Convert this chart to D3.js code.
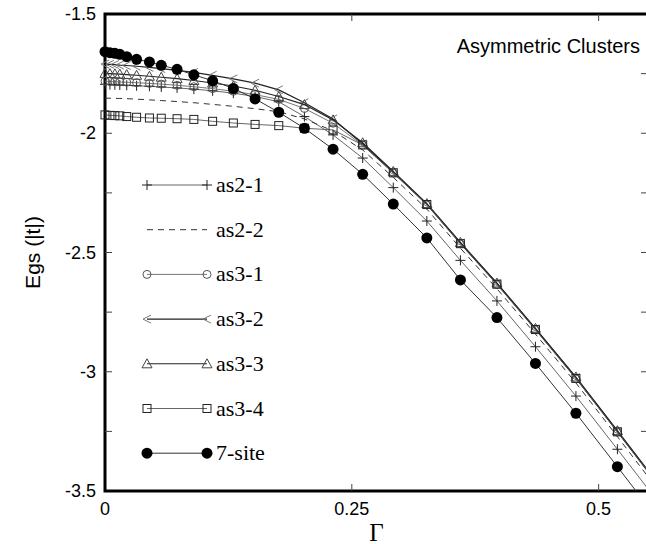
<!DOCTYPE html>
<html lang="en">
	<head>
		<meta charset="utf-8">
		<title>Asymmetric Clusters</title>
        <script type="text/javascript" src="https://cdn.jsdelivr.net/npm/d3@7"></script>
		<style type="text/css">
            body { margin: 0; background: #fff; }
        </style>
	</head>
	<body>
		<script type="text/javascript">

            // Gamma grid shared by all series (last point lies past the right edge)
            var gammas = [0, 0.005, 0.01, 0.015, 0.022, 0.032, 0.045, 0.057, 0.073, 0.09, 0.109, 0.13,
                          0.152, 0.176, 0.202, 0.231, 0.261, 0.292, 0.326, 0.36, 0.397, 0.436, 0.477, 0.519, 0.562];

            var as21 = [-1.795, -1.796, -1.797, -1.798, -1.799, -1.801, -1.803, -1.806, -1.810, -1.815, -1.822, -1.832,
                        -1.846, -1.868, -1.930, -2.007, -2.104, -2.228, -2.368, -2.533, -2.703, -2.895, -3.102, -3.325, -3.555];
            var as22 = [-1.853, -1.853, -1.854, -1.854, -1.855, -1.857, -1.860, -1.863, -1.867, -1.872, -1.879, -1.887,
                        -1.897, -1.910, -1.940, -1.990, -2.070, -2.185, -2.318, -2.482, -2.652, -2.842, -3.047, -3.272, -3.505];
            var as31 = [-1.782, -1.783, -1.784, -1.785, -1.786, -1.788, -1.791, -1.794, -1.799, -1.805, -1.813, -1.824,
                        -1.838, -1.858, -1.896, -1.958, -2.050, -2.167, -2.300, -2.464, -2.634, -2.824, -3.029, -3.253, -3.485];
            var as32 = [-1.710, -1.711, -1.712, -1.714, -1.716, -1.719, -1.724, -1.729, -1.736, -1.745, -1.757, -1.772,
                        -1.790, -1.818, -1.872, -1.940, -2.045, -2.163, -2.297, -2.460, -2.630, -2.820, -3.025, -3.250, -3.482];
            var as33 = [-1.749, -1.750, -1.751, -1.752, -1.754, -1.757, -1.761, -1.765, -1.771, -1.779, -1.789, -1.802,
                        -1.820, -1.846, -1.880, -1.944, -2.040, -2.160, -2.295, -2.458, -2.628, -2.818, -3.022, -3.247, -3.479];
            var as34 = [-1.923, -1.925, -1.926, -1.927, -1.930, -1.933, -1.936, -1.937, -1.939, -1.942, -1.950, -1.957,
                        -1.963, -1.968, -1.979, -1.986, -2.049, -2.166, -2.299, -2.463, -2.633, -2.823, -3.028, -3.252, -3.484];
            var site7 = [-1.658, -1.662, -1.665, -1.669, -1.679, -1.690, -1.701, -1.715, -1.732, -1.755, -1.780, -1.812,
                         -1.856, -1.912, -1.979, -2.067, -2.172, -2.297, -2.439, -2.615, -2.773, -2.965, -3.174, -3.398, -3.630];

            var seriesNames = ['as2-1', 'as2-2', 'as3-1', 'as3-2', 'as3-3', 'as3-4', '7-site'];
            var xTicks = [0, 0.25, 0.5];
            var yTicks = [-1.5, -2, -2.5, -3, -3.5];

            var w = 646;
            var h = 544;
            var pLeft = 105, pRight = 648, pTop = 14, pBottom = 491;

            var xScale = d3.scaleLinear().domain([0, 0.55]).range([pLeft, pRight]);
            var yScale = d3.scaleLinear().domain([-3.5, -1.5]).range([pBottom, pTop]);

            // one style per series
            var styles = [
                { values: as21, marker: 'plus', stroke: '#555', width: 0.9, dash: null },
                { values: as22, marker: null, stroke: '#333', width: 1, dash: '6,5' },
                { values: as31, marker: 'circle', stroke: '#666', width: 0.9, dash: null },
                { values: as32, marker: 'less', stroke: '#222', width: 1.2, dash: null },
                { values: as33, marker: 'triangle', stroke: '#222', width: 1.1, dash: null },
                { values: as34, marker: 'square', stroke: '#555', width: 0.9, dash: null },
                { values: site7, marker: 'dot', stroke: '#333', width: 1, dash: null }
            ];

            var svg = d3.select('body')
                        .append('svg')
                        .attr('width', w)
                        .attr('height', h);

            svg.append('clipPath')
                .attr('id', 'plot-clip')
                .append('rect')
                .attr('x', 95)
                .attr('y', pTop)
                .attr('width', pRight - 95)
                .attr('height', pBottom - pTop);

            // frame
            svg.append('rect')
                .attr('x', pLeft)
                .attr('y', pTop)
                .attr('width', pRight - pLeft)
                .attr('height', pBottom - pTop)
                .attr('fill', 'none')
                .attr('stroke', '#000')
                .attr('stroke-width', 3);

            // inward ticks
            var yMinor = d3.range(-3.25, -1.5, 0.25);
            var tickG = svg.append('g').attr('stroke', '#444').attr('stroke-width', 1);
            yMinor.forEach(function(v) {
                tickG.append('line').attr('x1', pLeft).attr('x2', pLeft + 7)
                    .attr('y1', yScale(v)).attr('y2', yScale(v));
                tickG.append('line').attr('x1', pRight - 7).attr('x2', pRight)
                    .attr('y1', yScale(v)).attr('y2', yScale(v));
            });
            xTicks.slice(1).forEach(function(v) {
                tickG.append('line').attr('x1', xScale(v)).attr('x2', xScale(v))
                    .attr('y1', pBottom - 7).attr('y2', pBottom);
                tickG.append('line').attr('x1', xScale(v)).attr('x2', xScale(v))
                    .attr('y1', pTop).attr('y2', pTop + 7);
            });

            // tick labels
            svg.selectAll('.ylab')
                .data(yTicks)
                .enter()
                .append('text')
                .attr('x', pLeft - 9)
                .attr('y', function(d) { return yScale(d) + 6; })
                .attr('text-anchor', 'end')
                .attr('font-family', 'Liberation Sans, Arial, sans-serif')
                .attr('font-size', '18px')
                .text(function(d) { return d; });

            svg.selectAll('.xlab')
                .data(xTicks)
                .enter()
                .append('text')
                .attr('x', function(d) { return xScale(d); })
                .attr('y', 515)
                .attr('text-anchor', 'middle')
                .attr('font-family', 'Liberation Sans, Arial, sans-serif')
                .attr('font-size', '18px')
                .text(function(d) { return d; });

            svg.append('text')
                .attr('transform', 'translate(40,' + (pTop + pBottom) / 2 + ') rotate(-90)')
                .attr('text-anchor', 'middle')
                .attr('font-family', 'Liberation Sans, Arial, sans-serif')
                .attr('font-size', '21px')
                .text('Egs (|t|)');

            svg.append('text')
                .attr('x', (pLeft + pRight) / 2)
                .attr('y', 541)
                .attr('text-anchor', 'middle')
                .attr('font-family', 'Liberation Serif, Times New Roman, serif')
                .attr('font-size', '25px')
                .text('Γ');

            svg.append('text')
                .attr('x', 640)
                .attr('y', 53)
                .attr('text-anchor', 'end')
                .attr('font-family', 'Liberation Sans, Arial, sans-serif')
                .attr('font-size', '20px')
                .text('Asymmetric Clusters');

            function drawMarker(g, type, x, y, color) {
                if (type == 'plus') {
                    g.append('path').attr('d', 'M' + (x - 5) + ',' + y + 'h10M' + x + ',' + (y - 5) + 'v10')
                        .attr('stroke', color).attr('stroke-width', 1).attr('fill', 'none');
                } else if (type == 'circle') {
                    g.append('circle').attr('cx', x).attr('cy', y).attr('r', 4)
                        .attr('stroke', '#555').attr('stroke-width', 1).attr('fill', 'none');
                } else if (type == 'less') {
                    g.append('path').attr('d', 'M' + (x + 4) + ',' + (y - 4) + 'L' + (x - 4) + ',' + y + 'L' + (x + 4) + ',' + (y + 4))
                        .attr('stroke', '#777').attr('stroke-width', 1).attr('fill', 'none');
                } else if (type == 'triangle') {
                    g.append('path').attr('d', 'M' + x + ',' + (y - 5) + 'L' + (x + 5) + ',' + (y + 4) + 'L' + (x - 5) + ',' + (y + 4) + 'Z')
                        .attr('stroke', '#444').attr('stroke-width', 1).attr('fill', 'none');
                } else if (type == 'square') {
                    g.append('rect').attr('x', x - 4).attr('y', y - 4).attr('width', 8).attr('height', 8)
                        .attr('stroke', color).attr('stroke-width', 1).attr('fill', 'none');
                } else if (type == 'dot') {
                    g.append('circle').attr('cx', x).attr('cy', y).attr('r', 5.5)
                        .attr('fill', '#000');
                }
            }

            var line = d3.line()
                .x(function(d) { return xScale(d[0]); })
                .y(function(d) { return yScale(d[1]); });

            var plot = svg.append('g').attr('clip-path', 'url(#plot-clip)');

            styles.forEach(function(s) {
                var pts = gammas.map(function(g, i) { return [g, s.values[i]]; });
                plot.append('path')
                    .datum(pts)
                    .attr('d', line)
                    .attr('fill', 'none')
                    .attr('stroke', s.stroke)
                    .attr('stroke-width', s.width)
                    .attr('stroke-dasharray', s.dash);
                if (s.marker) {
                    var g = plot.append('g');
                    pts.forEach(function(p) {
                        drawMarker(g, s.marker, xScale(p[0]), yScale(p[1]), '#222');
                    });
                }
            });

            // legend
            var legendY0 = 185, legendStep = 44.7;
            styles.forEach(function(s, i) {
                var y = legendY0 + i * legendStep;
                var lg = svg.append('g');
                lg.append('line')
                    .attr('x1', 147).attr('x2', 207)
                    .attr('y1', y).attr('y2', y)
                    .attr('stroke', s.stroke)
                    .attr('stroke-width', s.width)
                    .attr('stroke-dasharray', s.dash);
                if (s.marker) {
                    drawMarker(lg, s.marker, 147, y, '#222');
                    drawMarker(lg, s.marker, 207, y, '#222');
                }
                lg.append('text')
                    .attr('x', 216)
                    .attr('y', y + 7)
                    .attr('font-family', 'Liberation Serif, Times New Roman, serif')
                    .attr('font-size', '22px')
                    .text(seriesNames[i]);
            });

		</script>
	</body>
</html>
